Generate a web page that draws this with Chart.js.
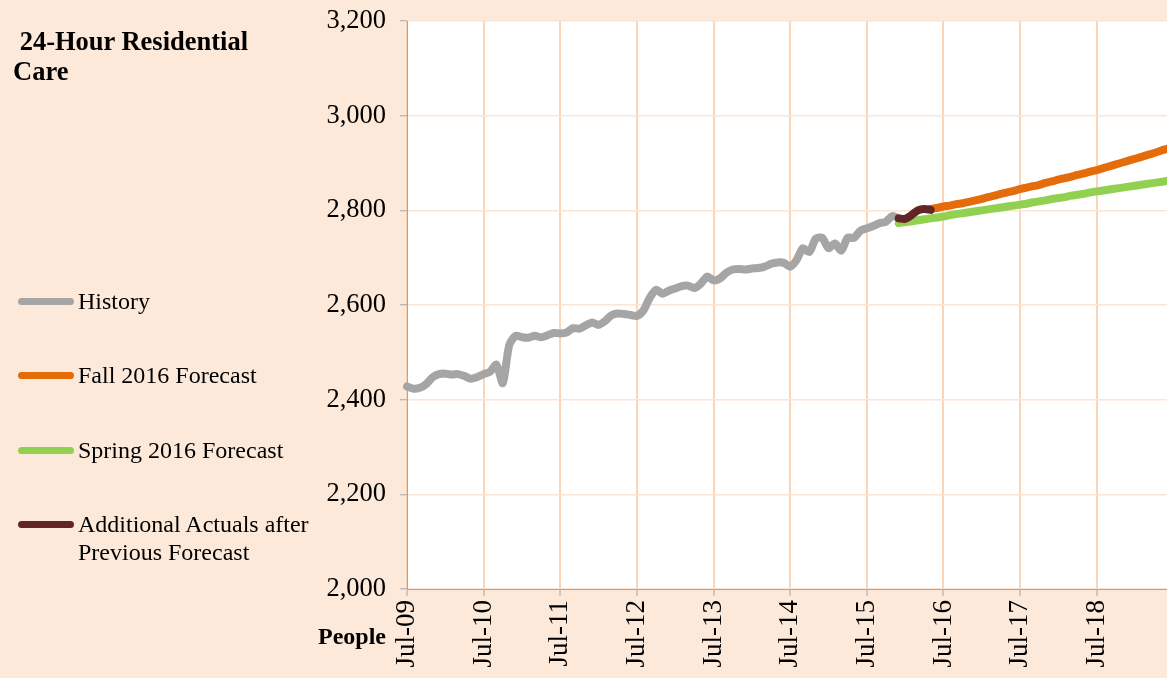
<!DOCTYPE html>
<html>
<head>
<meta charset="utf-8">
<script src="https://cdn.jsdelivr.net/npm/chart.js@4/dist/chart.umd.min.js"></script>
<style>
  html, body { margin: 0; padding: 0; }
  body { width: 1167px; height: 678px; background: #FDE9D9; position: relative; overflow: hidden;
         font-family: "Liberation Serif", "Times New Roman", serif; color: #000; }
  #wrap { position: absolute; left: 0; top: 0; width: 1167px; height: 678px; }
  .title { position: absolute; left: 13px; top: 26px; font-weight: bold; font-size: 26.5px; line-height: 30px; }
  .people { position: absolute; left: 318px; top: 623px; font-weight: bold; font-size: 24px; }
  .legend-item { position: absolute; left: 18px; font-size: 24px; line-height: 28px; }
  .legend-item .sw { position: absolute; left: 0; top: 11px; width: 56px; height: 7px; border-radius: 4px; }
  .legend-item span { position: absolute; left: 60px; top: 0; white-space: nowrap; }
</style>
</head>
<body>
<div id="wrap"><canvas id="grafico" width="1167" height="678"></canvas></div>
<div class="title">&nbsp;24-Hour Residential<br>Care</div>
<div class="people">People</div>
<div class="legend-item" style="top:287px"><div class="sw" style="background:#A5A5A5"></div><span>History</span></div>
<div class="legend-item" style="top:361px"><div class="sw" style="background:#E46C0A"></div><span>Fall 2016 Forecast</span></div>
<div class="legend-item" style="top:436px"><div class="sw" style="background:#92D050"></div><span>Spring 2016 Forecast</span></div>
<div class="legend-item" style="top:510px"><div class="sw" style="background:#632523"></div><span>Additional Actuals after<br>Previous Forecast</span></div>
<script>
// months Jul-09 .. Jun-19
const labels = [
  'Jul-09','Aug-09','Sep-09','Oct-09','Nov-09','Dec-09','Jan-10','Feb-10','Mar-10','Apr-10','May-10','Jun-10',
  'Jul-10','Aug-10','Sep-10','Oct-10','Nov-10','Dec-10','Jan-11','Feb-11','Mar-11','Apr-11','May-11','Jun-11',
  'Jul-11','Aug-11','Sep-11','Oct-11','Nov-11','Dec-11','Jan-12','Feb-12','Mar-12','Apr-12','May-12','Jun-12',
  'Jul-12','Aug-12','Sep-12','Oct-12','Nov-12','Dec-12','Jan-13','Feb-13','Mar-13','Apr-13','May-13','Jun-13',
  'Jul-13','Aug-13','Sep-13','Oct-13','Nov-13','Dec-13','Jan-14','Feb-14','Mar-14','Apr-14','May-14','Jun-14',
  'Jul-14','Aug-14','Sep-14','Oct-14','Nov-14','Dec-14','Jan-15','Feb-15','Mar-15','Apr-15','May-15','Jun-15',
  'Jul-15','Aug-15','Sep-15','Oct-15','Nov-15','Dec-15','Jan-16','Feb-16','Mar-16','Apr-16','May-16','Jun-16',
  'Jul-16','Aug-16','Sep-16','Oct-16','Nov-16','Dec-16','Jan-17','Feb-17','Mar-17','Apr-17','May-17','Jun-17',
  'Jul-17','Aug-17','Sep-17','Oct-17','Nov-17','Dec-17','Jan-18','Feb-18','Mar-18','Apr-18','May-18','Jun-18',
  'Jul-18','Aug-18','Sep-18','Oct-18','Nov-18','Dec-18','Jan-19','Feb-19','Mar-19','Apr-19','May-19','Jun-19'
];

// History: Jul-09 .. Dec-15
const historico = [
  2428, 2423, 2425, 2433, 2447, 2454, 2455, 2453, 2454, 2450, 2444, 2448,
  2454, 2459, 2474, 2435, 2515, 2535, 2532, 2531, 2535, 2532, 2536, 2541,
  2540, 2542, 2551, 2550, 2557, 2563, 2558, 2566, 2578, 2582, 2581, 2579,
  2577, 2588, 2615, 2632, 2624, 2630, 2635, 2640, 2641, 2636, 2645, 2660,
  2652, 2656, 2668, 2675, 2676, 2675, 2677, 2678, 2681, 2687, 2690, 2689,
  2681, 2695, 2720, 2712, 2740, 2742, 2720, 2730, 2715, 2742, 2742, 2757,
  2762, 2767, 2773, 2776, 2788, 2783
];
const inicioHistorico = 'Jul-09';

// Additional actuals: Dec-15 .. May-16
const adicionais = [2783, 2782, 2790, 2800, 2803, 2801];
const inicioAdicionais = 'Dec-15';

// Fall 2016 forecast: May-16 .. Jun-19
const outono = [
  2803, 2805, 2808, 2810, 2813, 2815, 2818, 2821, 2824, 2828, 2831, 2835,
  2838, 2841, 2845, 2848, 2851, 2854, 2858, 2861, 2865, 2868, 2871, 2875,
  2878, 2882, 2885, 2889, 2893, 2897, 2901, 2905, 2909, 2913, 2917, 2921,
  2926, 2930
];
const inicioOutono = 'May-16';

// Spring 2016 forecast: Dec-15 .. Jun-19
const primavera = [
  2773, 2775, 2777, 2779, 2781, 2783, 2785, 2787, 2790, 2792, 2794, 2796,
  2798, 2800, 2802, 2804, 2806, 2808, 2810, 2812, 2814, 2817, 2819, 2821,
  2824, 2826, 2828, 2831, 2833, 2835, 2838, 2840, 2842, 2844, 2846, 2848,
  2850, 2852, 2854, 2856, 2858, 2860, 2862
];
const inicioPrimavera = 'Dec-15';

const yTicks = [2000, 2200, 2400, 2600, 2800, 3000, 3200];

function serie(valores, inicio) {
  const start = labels.indexOf(inicio);
  return labels.map((l, i) => (i >= start && i - start < valores.length) ? valores[i - start] : null);
}

function linha(label, valores, inicio, cor, ordem) {
  return {
    label: label,
    data: serie(valores, inicio),
    borderColor: cor,
    backgroundColor: cor,
    borderWidth: 8,
    borderCapStyle: 'round',
    borderJoinStyle: 'round',
    pointRadius: 0,
    pointHoverRadius: 0,
    tension: 0.25,
    spanGaps: false,
    order: ordem
  };
}

const fundoBranco = {
  id: 'fundoBranco',
  beforeDraw(chart) {
    const a = chart.chartArea;
    const ctx = chart.ctx;
    ctx.save();
    ctx.fillStyle = '#FFFFFF';
    ctx.fillRect(a.left, a.top, a.right - a.left, a.bottom - a.top);
    ctx.restore();
  }
};

const ctx = document.getElementById('grafico').getContext('2d');

new Chart(ctx, {
  type: 'line',
  data: {
    labels: labels,
    datasets: [
      linha('Spring 2016 Forecast', primavera, inicioPrimavera, '#92D050', 4),
      linha('Fall 2016 Forecast', outono, inicioOutono, '#E46C0A', 3),
      linha('History', historico, inicioHistorico, '#A5A5A5', 2),
      linha('Additional Actuals after Previous Forecast', adicionais, inicioAdicionais, '#632523', 1)
    ]
  },
  options: {
    responsive: false,
    animation: false,
    layout: { padding: { top: 21, right: 0, bottom: 0, left: 0 } },
    plugins: {
      legend: { display: false },
      tooltip: { enabled: false }
    },
    scales: {
      x: {
        type: 'category',
        offset: false,
        afterFit: (s) => { s.height = 89; s.paddingLeft = 0; s.paddingRight = 0; },
        border: { color: '#A6A6A6', width: 1 },
        grid: { color: '#FBD5B5', lineWidth: 2, tickColor: '#A6A6A6', tickLength: 7, tickWidth: 1 },
        ticks: {
          autoSkip: false,
          maxRotation: 90,
          minRotation: 90,
          padding: 4,
          color: '#000',
          font: { family: '"Liberation Serif", "Times New Roman", serif', size: 27 },
          callback: function(value) {
            const l = labels[value];
            return l.startsWith('Jul') ? l : null;
          }
        }
      },
      y: {
        min: 2000,
        max: 3200,
        afterFit: (s) => { s.width = 407; s.paddingTop = 0; s.paddingBottom = 0; },
        afterBuildTicks: (s) => { s.ticks = yTicks.map(v => ({ value: v })); },
        border: { color: '#A6A6A6', width: 1 },
        grid: { color: '#FCE4D6', lineWidth: 1.5, tickColor: '#A6A6A6', tickLength: 7, tickWidth: 1 },
        ticks: {
          padding: 14,
          color: '#000',
          font: { family: '"Liberation Serif", "Times New Roman", serif', size: 26.5 },
          callback: (v) => v.toLocaleString('en-US')
        }
      }
    }
  },
  plugins: [fundoBranco]
});
</script>
</body>
</html>
